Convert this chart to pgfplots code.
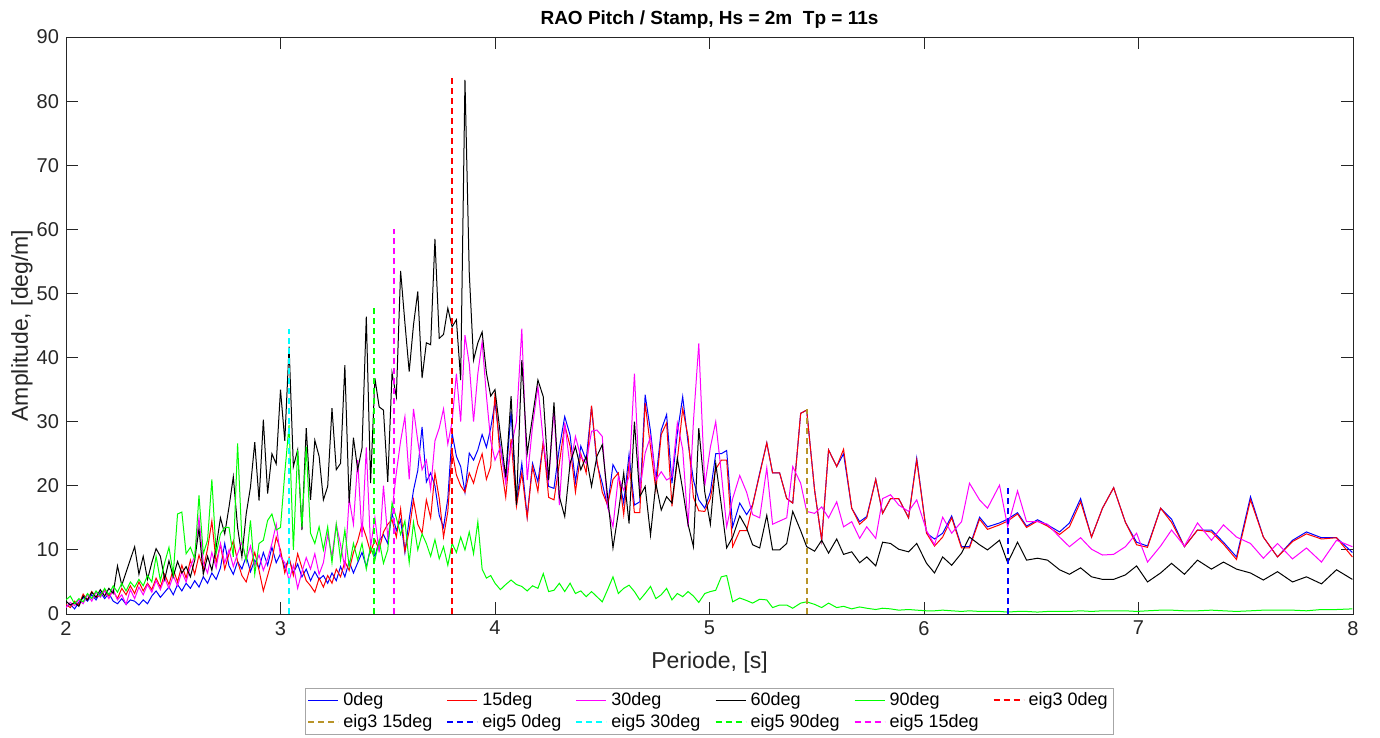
\documentclass[border=0pt]{standalone}
\usepackage{fontspec}
\setmainfont{Liberation Sans}
\usepackage{pgfplots}
\usepackage{pgfplotstable}
\pgfplotsset{compat=1.18}
\definecolor{olivedash}{rgb}{0.72,0.58,0.16}
\definecolor{axgray}{rgb}{0.15,0.15,0.15}
\definecolor{mmag}{rgb}{1,0,1}
\definecolor{mcyan}{rgb}{0,1,1}
\definecolor{mgreen}{rgb}{0,1,0}
\definecolor{mblue}{rgb}{0,0,1}
\definecolor{mred}{rgb}{1,0,0}

\pgfplotstableread{
x b r m k g
2.00 1.2 1.5 1.0 2.0 2.2
2.02 1.5 1.0 1.8 1.4 2.8
2.04 0.8 2.0 1.3 1.8 1.6
2.06 1.8 1.4 2.2 1.2 2.4
2.08 2.6 3.1 1.6 2.8 1.9
2.10 2.0 2.2 3.0 2.2 3.2
2.12 3.0 3.5 2.0 3.4 2.4
2.14 2.2 2.6 3.4 2.6 3.6
2.16 3.4 3.0 2.6 3.8 2.8
2.18 2.4 3.8 3.6 2.8 4.0
2.20 3.2 2.8 2.4 4.0 3.0
2.22 2.0 3.6 3.8 3.2 4.4
2.24 1.6 2.4 2.2 7.5 3.4
2.26 2.4 4.0 3.0 4.5 4.8
2.28 1.5 3.0 1.5 6.5 3.6
2.30 2.2 4.4 3.8 8.5 5.0
2.32 2.0 3.2 2.4 10.5 4.2
2.34 1.4 5.0 4.2 6.2 5.4
2.36 2.2 3.6 3.0 9.0 4.4
2.38 1.6 4.8 4.6 5.4 6.0
2.40 2.8 3.8 3.4 8.0 5.0
2.42 3.6 5.6 5.2 10.2 9.0
2.44 2.6 4.2 3.8 9.0 5.2
2.46 3.4 6.2 5.6 5.4 8.0
2.48 4.2 4.6 4.0 8.3 10.4
2.50 3.0 7.0 6.0 5.8 6.2
2.52 4.6 5.0 4.4 8.2 15.6
2.54 3.6 7.6 6.6 6.4 15.9
2.56 4.8 5.6 5.0 7.4 9.4
2.58 4.0 8.4 7.4 5.8 10.4
2.60 5.2 6.2 9.0 8.4 8.6
2.62 4.2 9.2 15.0 13.3 18.5
2.64 5.8 7.0 8.0 6.2 9.4
2.66 4.8 10.2 6.4 9.0 11.5
2.68 6.4 14.5 9.6 6.8 21.0
2.70 5.4 8.0 7.2 10.4 9.4
2.72 7.2 10.8 11.0 15.0 12.5
2.74 11.0 7.0 8.0 12.5 13.5
2.76 7.5 9.4 10.0 16.7 13.5
2.78 6.2 11.4 7.4 21.4 8.9
2.80 8.2 8.2 9.4 13.5 26.6
2.82 7.0 6.0 11.2 8.9 11.5
2.84 9.0 5.0 8.4 15.6 8.3
2.86 6.6 7.4 10.6 19.8 14.6
2.88 8.4 9.6 7.6 26.8 6.2
2.90 7.2 6.8 9.2 17.7 11.0
2.92 9.6 3.6 6.8 30.3 11.5
2.94 7.6 6.0 8.6 18.8 14.6
2.96 10.4 8.4 11.0 25.0 15.6
2.98 8.0 12.0 14.0 23.4 13.1
3.00 9.4 10.0 9.0 35.0 13.5
3.02 7.2 6.4 8.0 27.0 22.0
3.04 8.6 8.8 5.2 41.7 29.5
3.06 6.4 6.0 7.6 23.0 10.0
3.08 7.8 9.4 4.0 25.6 25.6
3.10 5.8 7.2 6.6 13.1 13.6
3.12 7.0 5.2 8.8 29.0 26.1
3.14 5.2 4.4 7.0 17.8 12.6
3.16 6.6 3.4 9.4 27.1 11.0
3.18 5.4 5.6 6.2 24.6 13.6
3.20 6.0 4.2 8.0 17.8 10.0
3.22 4.8 6.0 12.4 19.9 13.6
3.24 6.4 4.8 9.0 32.1 8.0
3.26 5.2 7.0 14.0 22.5 14.0
3.28 7.4 5.8 10.8 23.5 8.4
3.30 5.8 8.2 7.2 38.8 13.1
3.32 8.2 6.8 18.0 17.3 7.4
3.34 6.4 9.6 14.0 27.5 11.0
3.36 8.0 11.4 24.0 22.5 8.4
3.38 9.6 14.0 12.0 25.9 11.0
3.40 7.4 12.0 26.0 46.4 7.0
3.42 10.2 9.6 10.4 20.4 10.5
3.44 9.0 11.6 15.0 36.8 8.4
3.46 11.4 10.0 9.6 32.3 11.5
3.48 12.4 12.8 20.0 31.8 7.9
3.50 11.0 14.0 12.0 20.6 10.0
3.52 15.7 14.7 16.0 37.6 17.3
3.54 13.0 12.0 22.0 33.9 15.0
3.56 14.7 16.4 27.0 53.5 12.4
3.58 9.6 9.8 30.8 45.4 14.5
3.60 14.8 13.0 21.0 37.8 8.0
3.62 19.3 17.8 32.0 45.1 14.3
3.64 22.4 14.0 27.0 50.3 10.0
3.66 29.2 12.6 22.5 36.8 12.5
3.68 20.6 17.8 24.0 42.3 11.0
3.70 22.0 15.0 19.5 42.0 9.0
3.72 20.0 22.0 27.0 58.5 11.6
3.74 15.4 18.0 29.0 43.0 8.6
3.76 13.5 12.0 32.0 43.6 10.5
3.78 18.0 16.0 26.5 47.7 7.6
3.80 28.2 25.4 30.0 44.8 11.0
3.82 24.6 21.7 37.5 45.9 9.6
3.84 23.0 20.0 30.0 36.5 12.0
3.86 19.0 19.0 43.5 83.3 10.0
3.88 25.1 22.0 39.0 53.2 12.8
3.90 24.0 20.4 30.0 39.6 9.4
3.92 25.6 23.0 37.5 42.3 14.4
3.94 28.0 25.0 42.5 44.0 7.0
3.96 26.0 21.0 34.0 37.6 5.6
3.98 29.0 23.0 27.0 34.0 6.0
4.00 33.0 34.5 24.0 35.0 4.8
4.025 26 24 26 28 3.8
4.05 20.8 18.2 20.4 21.4 4.6
4.075 31.6 27.3 26 34 5.3
4.10 17.3 16.8 30 17 4.6
4.125 23.5 22 44.5 39.6 4.3
4.15 15.2 15 20.9 25 3.6
4.175 23.5 23 29.3 30.8 4.4
4.20 20.6 19.1 35.5 36.5 4.0
4.225 26.7 27 27 33.9 6.3
4.25 19.9 18.2 20.9 20.9 3.5
4.275 19.6 17.8 31.9 33 3.7
4.30 25.9 23.5 17 18.3 4.8
4.325 30.8 29.5 29.8 15.2 3.5
4.35 27.9 26.2 23 23.5 4.8
4.375 20.6 19 27.7 26.1 3.2
4.40 26.2 25 24.5 22.5 3.6
4.425 24 22 23.5 24.6 2.7
4.45 32.3 32.5 28.5 19.9 3.5
4.475 23.5 24 28.7 24.6 2.7
4.50 20.4 19 27.7 26.4 1.9
4.525 16.8 17 16.8 18.3 3.8
4.55 23.3 21 13.6 10.3 5.8
4.575 21.7 22 21.4 15.8 3.2
4.60 17.3 15.5 19.3 22 4.0
4.625 24.9 23.5 21.4 14.1 4.5
4.65 17 15.8 37.5 30 3.5
4.675 17.5 15.8 19.3 18.3 2.2
4.70 34.2 32.9 25.1 19.9 3.2
4.725 28.5 26 27.7 12.3 4.3
4.75 20.9 19.3 20.9 20.4 2.4
4.775 28.7 28 22.2 16.2 3.0
4.80 31.1 29.8 20.9 18.3 4.0
4.825 20.4 16.8 21.4 17.3 2.2
4.85 28.2 24 29.8 24.3 3.2
4.875 33.9 32 25.7 19.4 2.7
4.90 26.7 27.7 13.6 14 3.5
4.925 20.9 18.2 30 10.5 2.8
4.95 17.8 16.1 42.2 29 1.8
4.978 16.5 16 20 19 3.2
5.004 19 18 26 14 3.5
5.029 25 22.6 30 23.5 3.7
5.055 25 24.0 22 17 5.8
5.080 25.5 24 13.6 10.3 6.0
5.108 13.6 10.5 18 12 1.9
5.141 17.3 13 21.6 15.3 2.5
5.173 15.5 13 19 13.4 2.1
5.201 17 17 15.5 10.8 1.7
5.234 22 21.8 15 10.3 2.3
5.267 26.7 26.7 22.8 15.4 2.2
5.294 22 22 14 10 1.0
5.327 22 22 14.5 10 1.4
5.360 18 18 15 11 1.4
5.388 17.3 17.3 23 16 0.9
5.425 31.3 31.3 20.4 13 1.7
5.453 31.8 31.8 16 10.5 1.9
5.490 19.3 19.3 15.7 9.8 1.5
5.523 11.5 11.5 16.7 11.5 1.0
5.555 25.6 25.6 15 9.5 1.7
5.593 23 23 17.5 11.7 1.0
5.625 25 25.7 13.6 9.3 1.2
5.663 16.5 16.5 14.4 9.7 0.8
5.700 14.4 14 11.8 8 1.1
5.733 15.2 15 13.6 8.9 0.9
5.775 21 21 11.8 7.5 0.7
5.807 15.7 15.7 18 11.2 0.9
5.844 18 18 18.6 11 0.8
5.882 18 18 17 10.1 0.6
5.928 15 15 16 9.7 0.7
5.966 24.3 24 17.8 11 0.6
6.012 12.6 12.6 13 7.9 0.5
6.049 11.7 10.6 10.8 6.4 0.5
6.087 12.6 12.0 15.1 8.9 0.6
6.129 15.3 15 12.6 7.6 0.5
6.175 10.5 10.3 14.4 9.5 0.4
6.212 10.5 10.3 20.4 12 0.5
6.259 15.1 14.8 17.8 10.8 0.4
6.296 13.6 13.2 16.5 10 0.4
6.352 14.2 13.9 20.1 11.5 0.4
6.390 14.8 14.5 13.6 8 0.3
6.436 15.8 15.6 19.2 11.2 0.4
6.478 13.7 13.5 14.4 8.4 0.4
6.529 14.7 14.5 14.4 8.7 0.3
6.576 13.9 13.7 14 8.4 0.4
6.632 12.8 12.4 12 6.9 0.4
6.678 14.2 13.6 10.5 6.2 0.4
6.730 18 17.5 11.9 7.2 0.5
6.781 12 12 10.1 5.8 0.4
6.832 16.5 16.5 9.2 5.4 0.5
6.884 19.7 19.7 9.3 5.4 0.5
6.939 14.3 14.3 10.5 6.1 0.5
6.991 11.2 10.8 12.6 7.5 0.4
7.042 10.6 10.4 8.1 5 0.5
7.103 16.5 16.5 10.6 6.4 0.6
7.154 14.8 14.3 13.1 7.9 0.6
7.214 10.5 10.5 10.6 6.2 0.5
7.275 13.1 13.1 14.2 8.4 0.5
7.340 13.1 12.8 11.5 7 0.6
7.396 11.2 10.9 13.9 8.1 0.5
7.457 8.9 8.5 12 7 0.4
7.522 18.3 17.8 11 6.4 0.5
7.582 12 12 8.7 5.3 0.6
7.648 8.9 8.9 11 6.6 0.6
7.718 11.5 11.3 8.6 5 0.6
7.783 12.8 12.5 10.3 5.8 0.5
7.853 11.9 11.7 8.1 4.7 0.7
7.923 11.9 11.9 11.5 6.9 0.7
7.997 9.6 8.9 10.5 5.4 0.8
}\rao

\begin{document}
\begin{tikzpicture}
\begin{axis}[
  scale only axis, width=643.5pt, height=288.5pt,
  xmin=2, xmax=8, ymin=0, ymax=90,
  xtick={2,3,4,5,6,7,8}, ytick={0,10,20,30,40,50,60,70,80,90},
  tick align=inside, major tick length=6pt,
  axis line style={axgray, line width=0.4pt},
  every tick/.style={axgray, line width=0.4pt},
  tick label style={font=\fontsize{10}{12}\selectfont, color=axgray},
  /pgf/number format/assume math mode=true,
  title={\textbf{RAO Pitch / Stamp, Hs = 2m\ \ Tp = 11s}},
  title style={font=\fontsize{9.5}{11}\selectfont, at={(axis description cs:0.5,1)}, anchor=base, yshift=0.5pt, inner sep=0pt},
  xlabel={Periode, [s]}, ylabel={Amplitude, [deg/m]},
  label style={font=\fontsize{11.5}{13}\selectfont, color=axgray},
  xlabel style={at={(axis description cs:0.5,0)}, anchor=center, yshift=-24.5pt},
  ylabel style={at={(axis description cs:0,0.5)}, anchor=center, yshift=22pt},
  legend columns=6,
  legend cell align=left,
  legend style={at={(axis description cs:0.5,-0.128)}, anchor=north,
    font=\fontsize{9}{10}\selectfont, draw=gray!70, line width=0.4pt,
    inner xsep=1pt, inner ysep=0pt, row sep=-1pt, /tikz/every even column/.append style={column sep=5pt}},
  legend image code/.code={\draw[#1] (0pt,0pt) -- (15pt,0pt);},
]
\addplot[mblue, line width=0.5pt] table[x=x, y=b]{\rao};
\addlegendentry{0deg}
\addplot[mred, line width=0.5pt] table[x=x, y=r]{\rao};
\addlegendentry{15deg}
\addplot[mmag, line width=0.5pt] table[x=x, y=m]{\rao};
\addlegendentry{30deg}
\addplot[black, line width=0.5pt] table[x=x, y=k]{\rao};
\addlegendentry{60deg}
\addplot[mgreen, line width=0.5pt] table[x=x, y=g]{\rao};
\addlegendentry{90deg}
\addplot[mred, line width=1pt, dash pattern=on 3pt off 2pt] coordinates {(3.80,0) (3.80,84)};
\addlegendentry{eig3 0deg}
\addplot[olivedash, line width=1pt, dash pattern=on 3pt off 2pt] coordinates {(5.453,0) (5.453,32)};
\addlegendentry{eig3 15deg}
\addplot[mblue, line width=1pt, dash pattern=on 3pt off 2pt] coordinates {(6.39,0) (6.39,20)};
\addlegendentry{eig5 0deg}
\addplot[mcyan, line width=1pt, dash pattern=on 3pt off 2pt] coordinates {(3.04,0) (3.04,44.5)};
\addlegendentry{eig5 30deg}
\addplot[mgreen, line width=1pt, dash pattern=on 3pt off 2pt] coordinates {(3.435,0) (3.435,48)};
\addlegendentry{eig5 90deg}
\addplot[mmag, line width=1pt, dash pattern=on 3pt off 2pt] coordinates {(3.53,0) (3.53,60)};
\addlegendentry{eig5 15deg}
\end{axis}
\pgfresetboundingbox
\path[use as bounding box] (-33pt,-62pt) rectangle (657pt,307pt);
\end{tikzpicture}
\end{document}
